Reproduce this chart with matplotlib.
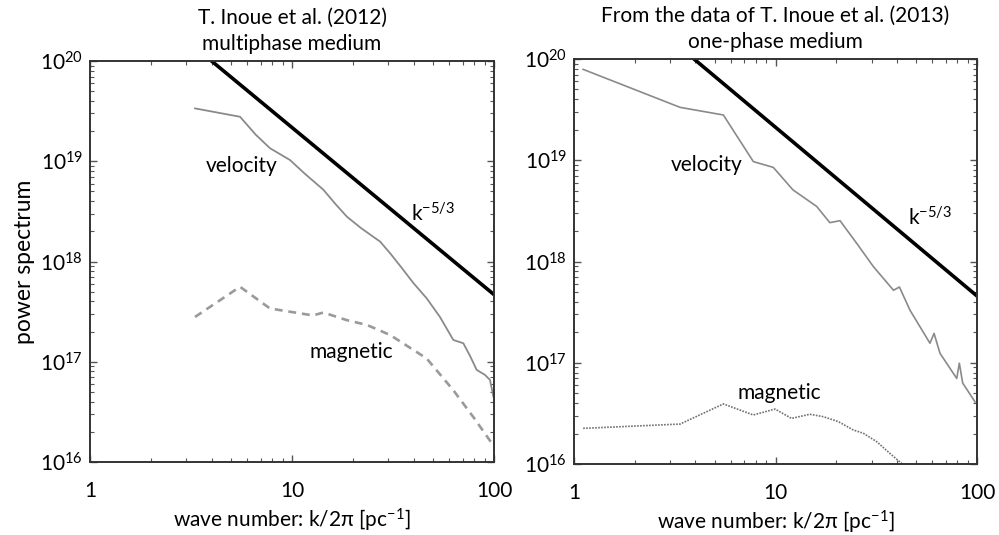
import numpy as np
import matplotlib.pyplot as plt
from matplotlib.ticker import LogLocator, FixedLocator, NullFormatter

plt.rcParams.update({
    'font.family': ['Lato', 'DejaVu Sans'],
    'mathtext.fontset': 'custom',
    'mathtext.rm': 'Lato',
    'mathtext.it': 'Lato:italic',
    'mathtext.default': 'regular',
})

# ---- data (k/2pi in pc^-1, power spectrum) ----
# left: T. Inoue et al. (2012), multiphase medium
k_vel_l = [3.31, 5.53, 6.6, 7.78, 9.77, 11.5, 14.3, 16.5, 18.7, 22.0, 27.3, 30.6,
           35.0, 39.9, 46.4, 54.0, 62.9, 70.5, 76.0, 82.1, 90.2, 95.5, 99.3]
p_vel_l = [3.37e19, 2.78e19, 1.85e19, 1.35e19, 1.03e19, 7.6e18, 5.2e18, 3.7e18,
           2.8e18, 2.15e18, 1.58e18, 1.21e18, 8.6e17, 6.1e17, 4.3e17, 2.8e17,
           1.65e17, 1.53e17, 1.15e17, 8.3e16, 7.4e16, 6.6e16, 4.5e16]
k_mag_l = [3.31, 5.53, 7.78, 12.7, 14.3, 18.7, 23.5, 30.6, 46.4, 62.9, 79.1, 97.5]
p_mag_l = [2.8e17, 5.6e17, 3.4e17, 2.9e17, 3.1e17, 2.6e17, 2.33e17, 1.85e17,
           1.08e17, 5.2e16, 2.8e16, 1.54e16]

# right: from the data of T. Inoue et al. (2013), one-phase medium
k_vel_r = [1.11, 3.36, 5.51, 7.76, 9.75, 12.2, 16.0, 18.6, 20.9, 25.3, 30.6,
           38.5, 41.2, 46.5, 58.4, 61.2, 65.5, 79.3, 81.7, 84.9, 97.8]
p_vel_r = [7.9e19, 3.33e19, 2.8e19, 9.7e18, 8.5e18, 5.1e18, 3.5e18, 2.42e18,
           2.53e18, 1.51e18, 8.9e17, 5.2e17, 5.6e17, 3.3e17, 1.56e17, 1.95e17,
           1.24e17, 7.0e16, 9.9e16, 6.3e16, 4.1e16]
k_mag_r = [1.11, 3.36, 5.51, 7.76, 9.95, 12.0, 14.8, 17.3, 20.5, 24.3, 27.3,
           31.8, 37.0, 43.1]
p_mag_r = [2.25e16, 2.48e16, 3.92e16, 3.05e16, 3.49e16, 2.82e16, 3.1e16, 2.93e16,
           2.62e16, 2.17e16, 2.01e16, 1.66e16, 1.27e16, 0.98e16]

# k^-5/3 reference lines (wavenumber where they leave the top of the frame)
k_anchor_l = 4.0
k_anchor_r = 3.94

titles = ['T. Inoue et al. (2012)\nmultiphase medium',
          'From the data of T. Inoue et al. (2013)\none-phase medium']

fig = plt.figure(figsize=(9.99, 5.35), dpi=100)
ax_l = fig.add_axes([0.0901, 0.1364, 0.4044, 0.7495])
ax_r = fig.add_axes([0.5746, 0.1327, 0.4034, 0.7570])

GRAY = '#8a8a8a'
LBL = dict(fontsize=15, ha='center', va='center')
KLAB = 'k$^{\u2010 5/3}$'.replace('\u2010 ', '-')

# left panel
ax_l.plot(k_vel_l, p_vel_l, color=GRAY, lw=1.3)
ax_l.plot(k_mag_l, p_mag_l, color='#9a9a9a', lw=1.9, ls=(0, (3, 2.2)))
kr = np.array([k_anchor_l, 100.0])
ax_l.plot(kr, 1e20 * (kr / k_anchor_l) ** (-5 / 3), color='black', lw=2.6)
ax_l.text(5.6, 10**18.95, 'velocity', **LBL)
ax_l.text(49.6, 10**18.48, KLAB, **LBL)
ax_l.text(19.7, 10**17.1, 'magnetic', **LBL)

# right panel
ax_r.plot(k_vel_r, p_vel_r, color=GRAY, lw=1.2)
ax_r.plot(k_mag_r, p_mag_r, color='#707070', lw=1.2, ls=(0, (1, 0.8)))
kr2 = np.array([k_anchor_r, 100.0])
ax_r.plot(kr2, 1e20 * (kr2 / k_anchor_r) ** (-5 / 3), color='black', lw=2.6)
ax_r.text(4.55, 10**18.95, 'velocity', **LBL)
ax_r.text(58.4, 10**18.43, KLAB, **LBL)
ax_r.text(10.5, 10**16.70, 'magnetic', **LBL)

for ax, t in zip([ax_l, ax_r], titles):
    ax.set_xscale('log')
    ax.set_yscale('log')
    ax.set_xlim(1, 100)
    ax.set_ylim(1e16, 1e20)
    ax.xaxis.set_major_locator(FixedLocator([1, 10, 100]))
    ax.set_xticklabels(['1', '10', '100'])
    ax.xaxis.set_minor_locator(LogLocator(base=10, subs=np.arange(2, 10)))
    ax.xaxis.set_minor_formatter(NullFormatter())
    ax.yaxis.set_major_locator(FixedLocator([1e16, 1e17, 1e18, 1e19, 1e20]))
    ax.set_yticklabels(['10$^{%d}$' % e for e in range(16, 21)])
    ax.yaxis.set_minor_locator(LogLocator(base=10, subs=np.arange(2, 10)))
    ax.yaxis.set_minor_formatter(NullFormatter())
    ax.tick_params(which='both', direction='in', top=True, right=True,
                   color='#555555', labelsize=15)
    ax.tick_params(which='major', length=5, width=1.0)
    ax.tick_params(which='minor', length=3, width=0.8)
    ax.tick_params(axis='x', which='major', pad=14)
    ax.tick_params(axis='y', which='major', pad=5)
    for s in ax.spines.values():
        s.set_linewidth(1.4)
        s.set_color('#333333')
    ax.set_title(t, fontsize=15, linespacing=1.35, pad=8)
    ax.set_xlabel('wave number: k/2\u03c0 [pc$^{-1}$]', fontsize=15, labelpad=4)

ax_l.set_ylabel('power spectrum', fontsize=16.5, labelpad=4)

fig.savefig('out.png', dpi=100)
